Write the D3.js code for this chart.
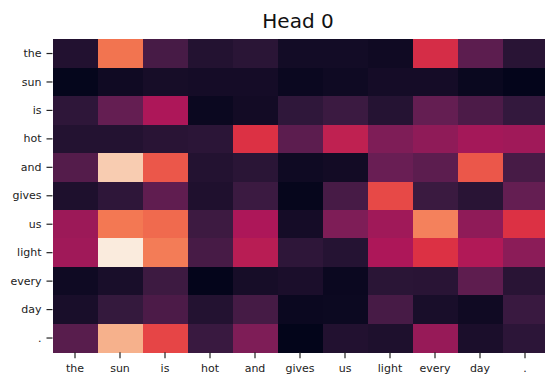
<!DOCTYPE html>
<html>
<head>
<meta charset="utf-8">
<script src="https://cdn.jsdelivr.net/npm/d3@7"></script>
<style>
  html, body { margin: 0; padding: 0; background: #fff; }
  svg { display: block; font-family: "DejaVu Sans", sans-serif; }
</style>
</head>
<body>
<svg id="chart" width="545" height="379"></svg>
<script>
const tokens = ["the", "sun", "is", "hot", "and", "gives", "us", "light", "every", "day", "."];

// attention weights (rows = query token, columns = key token), normalised 0..1
const rowThe   = [0.09, 0.71, 0.19, 0.095, 0.115, 0.05, 0.05, 0.04, 0.54, 0.24, 0.11];
const rowSun   = [0.01, 0.04, 0.06, 0.055, 0.055, 0.025, 0.037, 0.055, 0.055, 0.023, 0.006];
const rowIs    = [0.126, 0.26, 0.43, 0.025, 0.048, 0.128, 0.16, 0.10, 0.26, 0.20, 0.14];
const rowHot   = [0.095, 0.095, 0.11, 0.117, 0.56, 0.24, 0.48, 0.32, 0.36, 0.41, 0.40];
const rowAnd   = [0.22, 0.92, 0.65, 0.095, 0.115, 0.037, 0.048, 0.27, 0.24, 0.65, 0.19];
const rowGives = [0.08, 0.126, 0.25, 0.083, 0.16, 0.012, 0.19, 0.62, 0.158, 0.11, 0.26];
const rowUs    = [0.39, 0.72, 0.69, 0.165, 0.43, 0.055, 0.32, 0.40, 0.74, 0.36, 0.56];
const rowLight = [0.40, 1.0, 0.73, 0.19, 0.46, 0.126, 0.10, 0.43, 0.56, 0.44, 0.35];
const rowEvery = [0.037, 0.066, 0.165, 0.006, 0.06, 0.07, 0.025, 0.115, 0.11, 0.245, 0.11];
const rowDay   = [0.066, 0.143, 0.20, 0.095, 0.185, 0.025, 0.03, 0.19, 0.066, 0.04, 0.155];
const rowDot   = [0.23, 0.85, 0.61, 0.155, 0.32, 0.003, 0.09, 0.08, 0.38, 0.07, 0.12];

const matrix = [rowThe, rowSun, rowIs, rowHot, rowAnd, rowGives, rowUs, rowLight, rowEvery, rowDay, rowDot];
const title = "Head 0";

// seaborn "rocket" colormap stops
const rocketStops = ["#03051a", "#35193e", "#701f57", "#ad1759", "#e13342", "#f37651", "#f6b48f", "#faebdd"];
const rocket = d3.piecewise(d3.interpolateRgb, rocketStops);

const cells = [];
matrix.forEach((row, i) => row.forEach((v, j) => cells.push({ row: tokens[i], col: tokens[j], v })));

const svg = d3.select("#chart");
const mLeft = 52.5, mTop = 39.3, cellW = 45, cellH = 28.45;
const plotW = cellW * tokens.length, plotH = cellH * tokens.length;

const x = d3.scaleBand().domain(tokens).range([mLeft, mLeft + plotW]).padding(0);
const y = d3.scaleBand().domain(tokens).range([mTop, mTop + plotH]).padding(0);
const vmin = d3.min(cells, d => d.v), vmax = d3.max(cells, d => d.v);
const color = d3.scaleSequential(rocket).domain([vmin, vmax]);

svg.append("g")
  .selectAll("rect")
  .data(cells)
  .join("rect")
  .attr("x", d => x(d.col))
  .attr("y", d => y(d.row))
  .attr("width", x.bandwidth() + 0.5)
  .attr("height", y.bandwidth() + 0.5)
  .attr("fill", d => color(d.v))
  .attr("shape-rendering", "crispEdges");

const xAxis = svg.append("g")
  .attr("transform", `translate(0,${mTop + plotH})`)
  .call(d3.axisBottom(x).tickSize(6).tickPadding(6));
const yAxis = svg.append("g")
  .attr("transform", `translate(${mLeft},0)`)
  .call(d3.axisLeft(y).tickSize(6).tickPadding(5));

[xAxis, yAxis].forEach(g => {
  g.select(".domain").remove();
  g.selectAll(".tick line").attr("stroke", "#222").attr("stroke-width", 1.2);
  g.selectAll(".tick text")
    .attr("fill", "#222")
    .style("font-family", "'DejaVu Sans', sans-serif")
    .style("font-size", "11px");
});

svg.append("text")
  .attr("x", mLeft + plotW / 2 - 2)
  .attr("y", 28)
  .attr("text-anchor", "middle")
  .attr("fill", "#111")
  .style("font-family", "'DejaVu Sans', sans-serif")
  .style("font-size", "20px")
  .text(title);
</script>
</body>
</html>
